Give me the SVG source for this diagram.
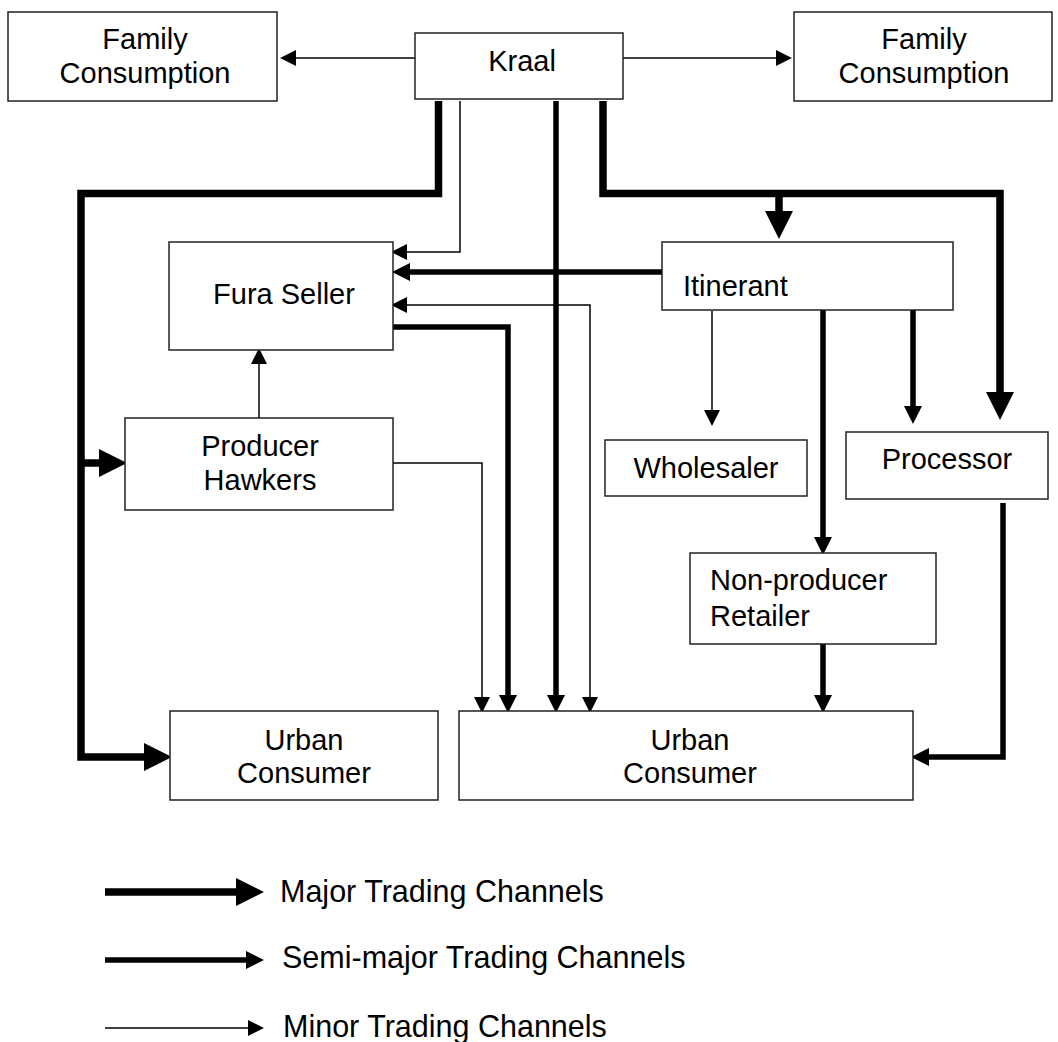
<svg xmlns="http://www.w3.org/2000/svg" width="1058" height="1042" viewBox="0 0 1058 1042">
<style>
.box{fill:#fff;stroke:#222;stroke-width:1.5}
text{font-family:"Liberation Sans",Arial,sans-serif;font-size:29px;fill:#000}
.c{text-anchor:middle}
.lg{font-size:30.5px}
.minor{fill:none;stroke:#000;stroke-width:1.5}
.semi{fill:none;stroke:#000;stroke-width:5.5}
.major{fill:none;stroke:#000;stroke-width:7.5}
</style>
<defs>
<marker id="aMin" markerUnits="userSpaceOnUse" markerWidth="16" markerHeight="16" refX="0" refY="7" orient="auto-start-reverse" viewBox="0 0 14 14"><path d="M0,0 L14,7 L0,14 Z" fill="#000"/></marker>
<marker id="aSemi" markerUnits="userSpaceOnUse" markerWidth="18" markerHeight="18" refX="0" refY="8" orient="auto-start-reverse" viewBox="0 0 16 16"><path d="M0,0 L16,8 L0,16 Z" fill="#000"/></marker>
<marker id="aMaj" markerUnits="userSpaceOnUse" markerWidth="28" markerHeight="28" refX="0" refY="13" orient="auto-start-reverse" viewBox="0 0 26 26"><path d="M0,0 L26,13 L0,26 Z" fill="#000"/></marker>
</defs>
<rect width="1058" height="1042" fill="#fff"/>

<g id="connectors">
<path class="minor" d="M415,58 H296" marker-end="url(#aMin)"/>
<path class="minor" d="M623,58 H776" marker-end="url(#aMin)"/>
<path class="minor" d="M460,101 V252 H407" marker-end="url(#aMin)"/>
<path class="minor" d="M407,305 H590 V697" marker-start="url(#aMin)" marker-end="url(#aMin)"/>
<path class="minor" d="M259,418 V364" marker-end="url(#aMin)"/>
<path class="minor" d="M393,463 H482 V697" marker-end="url(#aMin)"/>
<path class="minor" d="M712,311 V410" marker-end="url(#aMin)"/>

<path class="semi" d="M662,272 H410" marker-end="url(#aSemi)"/>
<path class="semi" d="M393,327 H508 V695" marker-end="url(#aSemi)"/>
<path class="semi" d="M556,101 V695" marker-end="url(#aSemi)"/>
<path class="semi" d="M823,310 V537" marker-end="url(#aSemi)"/>
<path class="semi" d="M913,310 V406" marker-end="url(#aSemi)"/>
<path class="semi" d="M823,644 V695" marker-end="url(#aSemi)"/>
<path class="semi" d="M1003,503 V757 H929" marker-end="url(#aSemi)"/>

<path class="major" d="M438.5,101 V193.5 H81 V757 H144" marker-end="url(#aMaj)"/>
<path class="major" d="M81,463 H99" marker-end="url(#aMaj)"/>
<path class="major" d="M603,101 V193.5 H1000 V392" marker-end="url(#aMaj)"/>
<path class="major" d="M779,193.5 V211" marker-end="url(#aMaj)"/>
</g>

<g id="family-left">
<rect class="box" x="8" y="12" width="269" height="89"/>
<text class="c" x="145" y="49">Family</text>
<text class="c" x="145" y="83">Consumption</text>
</g>
<g id="kraal">
<rect class="box" x="415" y="33" width="208" height="66"/>
<text class="c" x="522" y="71">Kraal</text>
</g>
<g id="family-right">
<rect class="box" x="794" y="12" width="258" height="89"/>
<text class="c" x="924" y="49">Family</text>
<text class="c" x="924" y="83">Consumption</text>
</g>
<g id="fura-seller">
<rect class="box" x="169" y="242" width="224" height="108"/>
<text class="c" x="284" y="304">Fura Seller</text>
</g>
<g id="itinerant">
<rect class="box" x="662" y="242" width="291" height="68"/>
<text x="683" y="296">Itinerant</text>
</g>
<g id="producer-hawkers">
<rect class="box" x="125" y="418" width="268" height="92"/>
<text class="c" x="260" y="456">Producer</text>
<text class="c" x="260" y="490">Hawkers</text>
</g>
<g id="wholesaler">
<rect class="box" x="605" y="440" width="202" height="56"/>
<text class="c" x="706" y="478">Wholesaler</text>
</g>
<g id="processor">
<rect class="box" x="846" y="432" width="202" height="67"/>
<text class="c" x="947" y="469">Processor</text>
</g>
<g id="non-producer-retailer">
<rect class="box" x="690" y="553" width="246" height="91"/>
<text x="710" y="590">Non-producer</text>
<text x="710" y="626">Retailer</text>
</g>
<g id="urban-consumer-left">
<rect class="box" x="170" y="711" width="268" height="89"/>
<text class="c" x="304" y="750">Urban</text>
<text class="c" x="304" y="783">Consumer</text>
</g>
<g id="urban-consumer-right">
<rect class="box" x="459" y="711" width="454" height="89"/>
<text class="c" x="690" y="750">Urban</text>
<text class="c" x="690" y="783">Consumer</text>
</g>

<g id="legend">
<path class="major" d="M105,892 H236" marker-end="url(#aMaj)"/>
<text class="lg" x="280" y="902">Major Trading Channels</text>
<path class="semi" d="M105,960 H246" marker-end="url(#aSemi)"/>
<text class="lg" x="282" y="968">Semi-major Trading Channels</text>
<path class="minor" d="M105,1028 H248" marker-end="url(#aMin)"/>
<text class="lg" x="283" y="1037">Minor Trading Channels</text>
</g>
</svg>
